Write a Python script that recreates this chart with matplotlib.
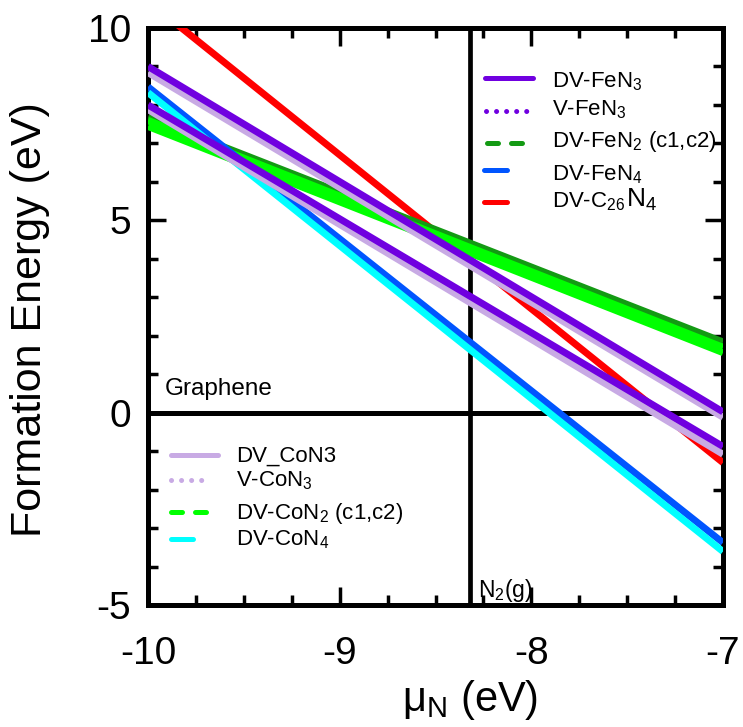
import matplotlib
matplotlib.use("Agg")
import matplotlib.pyplot as plt
from matplotlib.lines import Line2D

plt.rcParams['font.family'] = ['Liberation Sans', 'DejaVu Sans']
plt.rcParams['mathtext.fontset'] = 'custom'
plt.rcParams['mathtext.rm'] = 'Liberation Sans'
plt.rcParams['mathtext.it'] = 'Liberation Sans:italic'
plt.rcParams['mathtext.bf'] = 'Liberation Sans:bold'

# ---- data: chemical potential range and formation energies at its ends ----
mu_N = [-10.0, -7.0]
mu_N2_gas = -8.32

fe_dv_n3 = [9.00, 0.02]
fe_v_n3 = [8.00, -0.88]
fe_dv_n2_c1 = [7.68, 1.84]
fe_dv_n2_c2 = [7.58, 1.72]
fe_dv_n4 = [8.47, -3.38]
dv_c26n4 = [10.70, -1.30]

co_dv_n3 = [8.84, -0.12]
co_v_n3 = [7.88, -1.08]
co_dv_n2_c1 = [7.60, 1.70]
co_dv_n2_c2 = [7.44, 1.56]
co_dv_n4 = [8.32, -3.61]

x_ticks = [-10, -9, -8, -7]
y_ticks = [-5, 0, 5, 10]

PURPLE = '#7000E0'
LAVENDER = '#C8AAE4'
DKGREEN = '#139A13'
GREEN = '#00FF00'
BLUE = '#0055FF'
CYAN = '#00FFFF'
RED = '#FF0000'

W, H = 743, 727
fig = plt.figure(figsize=(W / 100, H / 100), dpi=100)
L, R, T, B = 148, 723, 28, 605
ax = fig.add_axes([L / W, 1 - B / H, (R - L) / W, (B - T) / H])

lw = 5.0
ax.plot(mu_N, dv_c26n4, color=RED, lw=lw, solid_capstyle='butt', zorder=3)
ax.plot(mu_N, fe_dv_n2_c1, color=DKGREEN, lw=lw, solid_capstyle='butt', zorder=3)
ax.plot(mu_N, fe_dv_n2_c2, color=DKGREEN, lw=lw, solid_capstyle='butt', zorder=3)
ax.plot(mu_N, co_dv_n2_c1, color=GREEN, lw=lw, solid_capstyle='butt', zorder=3)
ax.plot(mu_N, co_dv_n2_c2, color=GREEN, lw=lw, solid_capstyle='butt', zorder=3)
ax.plot(mu_N, fe_dv_n4, color=BLUE, lw=lw, solid_capstyle='butt', zorder=3)
ax.plot(mu_N, co_dv_n4, color=CYAN, lw=lw, solid_capstyle='butt', zorder=3)
ax.plot(mu_N, co_dv_n3, color=LAVENDER, lw=lw, solid_capstyle='butt', zorder=3)
ax.plot(mu_N, co_v_n3, color=LAVENDER, lw=lw, solid_capstyle='butt', zorder=3)
ax.plot(mu_N, fe_dv_n3, color=PURPLE, lw=lw, solid_capstyle='butt', zorder=3)
ax.plot(mu_N, fe_v_n3, color=PURPLE, lw=lw, solid_capstyle='butt', zorder=3)

ax.axhline(0, color='black', lw=3.6, zorder=2)
ax.axvline(mu_N2_gas, color='black', lw=3.4, zorder=2)

ax.set_xlim(-10, -7)
ax.set_ylim(-5, 10)
ax.set_xticks(x_ticks)
ax.set_xticklabels([str(t) for t in x_ticks])
ax.set_yticks(y_ticks)
ax.set_yticklabels([str(t) for t in y_ticks])
ax.set_xticks([-10 + 0.25 * i for i in range(13)], minor=True)
ax.set_yticks(list(range(-5, 11)), minor=True)
ax.tick_params(which='both', direction='in', top=True, right=True, width=2.5, labelsize=28)
ax.tick_params(which='major', length=13)
ax.tick_params(which='minor', length=7.5)
ax.tick_params(axis='x', which='major', pad=22)
ax.tick_params(axis='y', which='major', pad=12)
for s in ax.spines.values():
    s.set_linewidth(3.6)

fig.text(30 / W, 1 - 320 / H, 'Formation Energy (eV)', rotation=90, fontsize=31,
         ha='center', va='center')
fig.text(470 / W, 1 - 700 / H, r'$\mathregular{\mu_N}$ (eV)', fontsize=30,
         ha='center', va='center')

ax.text((165 - L) / (R - L), (B - 395) / (B - T), 'Graphene', transform=ax.transAxes,
        fontsize=17.5, ha='left', va='baseline')
ax.text((478 - L) / (R - L), (B - 597) / (B - T), r'N$_2$(g)', transform=ax.transAxes,
        fontsize=16.5, ha='left', va='baseline')


def fx(px):
    return (px - L) / (R - L)


def fy(py):
    return (B - py) / (B - T)


def handle(x0, x1, y, color, ls, lwh=3.6):
    kw = dict(color=color, lw=lwh, transform=ax.transAxes, clip_on=False, zorder=5)
    if ls == ':':
        kw.update(dashes=(0.01, 2.0), dash_capstyle='round')
    elif ls == '--':
        kw.update(dashes=(2.2, 2.6), dash_capstyle='round')
    else:
        kw.update(solid_capstyle='round')
    ax.add_line(Line2D([fx(x0), fx(x1)], [fy(y), fy(y)], **kw))


def label(x, y, s, size=16):
    return ax.text(fx(x), fy(y), s, transform=ax.transAxes, fontsize=size,
                   ha='left', va='baseline', zorder=5)


# Fe legend
handle(485, 533, 78, PURPLE, '-')
label(552, 87, r'DV-FeN$_3$')
handle(486, 530, 111, PURPLE, ':')
label(552, 115, r'V-FeN$_3$')
handle(487, 535, 143, DKGREEN, '--')
label(552, 147, r'DV-FeN$_2$ (c1,c2)')
handle(484, 507, 170, BLUE, '-')
label(552, 180, r'DV-FeN$_4$')
handle(484, 507, 202, RED, '-')
t_c26 = label(552, 207, r'DV-C$_{26}$')
fig.canvas.draw()
bb = t_c26.get_window_extent(renderer=fig.canvas.get_renderer())
x_end_px = bb.x1
label(x_end_px + 1, 207, r'N$_4$', size=19)

# Co legend
handle(171, 218, 455, LAVENDER, '-')
label(236, 462, 'DV_CoN3')
handle(171, 205, 480, LAVENDER, ':')
label(236, 486, r'V-CoN$_3$')
handle(171, 212, 512, GREEN, '--')
label(236, 519, r'DV-CoN$_2$ (c1,c2)')
handle(171, 193, 539, CYAN, '-')
label(236, 545, r'DV-CoN$_4$')

fig.savefig('out.png', dpi=100)
